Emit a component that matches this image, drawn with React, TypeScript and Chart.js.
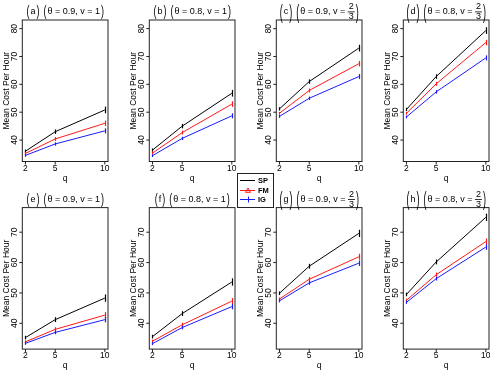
import React, { useEffect, useRef } from "react";
import { Chart, registerables } from "chart.js";

Chart.register(...registerables);

// ---------------- data ----------------
const Q_VALUES = [2, 5, 10];
const X_TICKS = [2, 5, 10];
const TOP_Y_TICKS = [40, 50, 60, 70, 80];
const BOTTOM_Y_TICKS = [40, 50, 60, 70];
const PANEL_LABELS = ["a", "b", "c", "d", "e", "f", "g", "h"];
const PANEL_THETA = ["0.9", "0.8", "0.9", "0.8", "0.9", "0.8", "0.9", "0.8"];
const PANEL_V = ["1", "1", "2/3", "2/3", "1", "1", "2/3", "2/3"];
const SERIES_NAMES = ["SP", "FM", "IG"];

const SP_VALUES = [
  [36.0, 43.0, 50.8],
  [36.4, 45.0, 56.8],
  [51.2, 61.0, 73.0],
  [51.0, 62.8, 79.3],
  [35.3, 41.2, 48.3],
  [35.6, 43.2, 53.6],
  [49.9, 58.8, 69.6],
  [49.5, 60.2, 74.9],
];
const FM_VALUES = [
  [35.2, 40.4, 46.0],
  [35.3, 42.7, 52.9],
  [49.6, 57.8, 67.4],
  [49.6, 60.2, 75.0],
  [33.9, 38.0, 42.7],
  [34.1, 39.5, 47.3],
  [48.0, 54.5, 61.9],
  [47.6, 56.0, 66.9],
];
const IG_VALUES = [
  [34.5, 38.6, 43.3],
  [34.4, 40.6, 48.7],
  [48.5, 55.0, 62.8],
  [48.3, 57.3, 69.5],
  [33.4, 37.0, 41.2],
  [33.3, 38.6, 45.5],
  [47.4, 53.3, 59.8],
  [46.9, 54.7, 65.1],
];
const SP_ERR = [0.6, 0.8, 1.2];
const FM_ERR = [0.5, 0.7, 1.0];
const IG_ERR = [0.5, 0.6, 0.9];

// ---------------- layout / style ----------------
const W = 490;
const H = 370;
const FONT = '"Liberation Sans", Arial, Helvetica, sans-serif';
const COLORS = ["#000000", "#ff1a1a", "#1a1aff"];
const COL_LEFT = [22.3, 149.3, 276.3, 403.3];
const BOX_W = 85.7;
const ROW_TOP = [20, 207.6];
const BOX_H = 141.5;
const Y_RANGES = [
  [32.3, 83.1],
  [31.5, 78.1],
];
const X_RANGE = [1.68, 10.32];

function drawParen(ctx: CanvasRenderingContext2D, ch: string, x: number, cy: number, scale: number) {
  ctx.save();
  ctx.translate(x, cy);
  ctx.scale(1, scale);
  ctx.textAlign = "left";
  ctx.textBaseline = "middle";
  ctx.fillText(ch, 0, 0.6);
  ctx.restore();
}

function drawTitle(ctx: CanvasRenderingContext2D, cx: number, cy: number, label: string, theta: string, v: string) {
  ctx.save();
  ctx.fillStyle = "#000";
  ctx.font = `9px ${FONT}`;
  ctx.textBaseline = "middle";
  ctx.textAlign = "left";
  const isFrac = v.includes("/");
  const pScale = isFrac ? 2.3 : 1.6;
  const pw = ctx.measureText("(").width;
  const labW = ctx.measureText(label).width;
  const main = isFrac ? `θ = ${theta}, v = ` : `θ = ${theta}, v = ${v}`;
  const mainW = ctx.measureText(main).width;
  let fracW = 0;
  let num = "";
  let den = "";
  if (isFrac) {
    [num, den] = v.split("/");
    fracW = Math.max(ctx.measureText(num).width, ctx.measureText(den).width) + 2;
  }
  const gap = 1;
  const total = pw + gap + labW + gap + pw + 4 + pw + gap + mainW + fracW + gap + pw;
  let x = cx - total / 2;
  drawParen(ctx, "(", x, cy, pScale);
  x += pw + gap;
  ctx.fillText(label, x, cy);
  x += labW + gap;
  drawParen(ctx, ")", x, cy, pScale);
  x += pw + 4;
  drawParen(ctx, "(", x, cy, pScale);
  x += pw + gap;
  ctx.fillText(main, x, cy);
  x += mainW;
  if (isFrac) {
    ctx.textAlign = "center";
    const fx = x + fracW / 2;
    ctx.fillText(num, fx, cy - 5);
    ctx.fillText(den, fx, cy + 5.5);
    ctx.fillRect(x, cy, fracW, 0.8);
    ctx.textAlign = "left";
    x += fracW;
  }
  x += gap;
  drawParen(ctx, ")", x, cy, pScale);
  ctx.restore();
}

function makePanelPlugin(p: number, row: number) {
  return {
    id: "panelDecor" + p,
    afterDatasetsDraw(chart: any) {
      const ctx: CanvasRenderingContext2D = chart.ctx;
      const a = chart.chartArea;
      const xs = chart.scales.x;
      const ys = chart.scales.y;
      const errs = [SP_ERR, FM_ERR, IG_ERR];
      ctx.save();
      // error bars
      chart.data.datasets.forEach((ds: any, di: number) => {
        ctx.strokeStyle = ds.borderColor;
        ctx.lineWidth = 1.2;
        ds.data.forEach((pt: any, k: number) => {
          const px = Math.round(xs.getPixelForValue(pt.x)) + 0.5;
          const y1 = ys.getPixelForValue(pt.y - errs[di][k]);
          const y2 = ys.getPixelForValue(pt.y + errs[di][k]);
          ctx.beginPath();
          ctx.moveTo(px, y1);
          ctx.lineTo(px, y2);
          ctx.stroke();
        });
      });
      // box
      ctx.strokeStyle = "#222";
      ctx.lineWidth = 1;
      ctx.strokeRect(a.left, a.top, a.right - a.left, a.bottom - a.top);
      // x ticks
      ctx.fillStyle = "#000";
      ctx.font = `8.5px ${FONT}`;
      ctx.textAlign = "center";
      ctx.textBaseline = "middle";
      X_TICKS.forEach((t) => {
        const px = xs.getPixelForValue(t);
        ctx.beginPath();
        ctx.moveTo(px, a.bottom);
        ctx.lineTo(px, a.bottom + 3);
        ctx.stroke();
        ctx.fillText(String(t), px, a.bottom + 7);
      });
      ctx.fillText("q", (a.left + a.right) / 2, a.bottom + 17);
      // y ticks
      const yt = row === 0 ? TOP_Y_TICKS : BOTTOM_Y_TICKS;
      yt.forEach((t) => {
        const py = ys.getPixelForValue(t);
        ctx.beginPath();
        ctx.moveTo(a.left - 3, py);
        ctx.lineTo(a.left, py);
        ctx.stroke();
        ctx.save();
        ctx.translate(a.left - 8, py);
        ctx.rotate(-Math.PI / 2);
        ctx.fillText(String(t), 0, 0);
        ctx.restore();
      });
      ctx.save();
      ctx.translate(a.left - 16, (a.top + a.bottom) / 2);
      ctx.rotate(-Math.PI / 2);
      ctx.fillText("Mean Cost Per Hour", 0, 0);
      ctx.restore();
      // title
      drawTitle(ctx, (a.left + a.right) / 2, a.top - 8.5, `${PANEL_LABELS[p]}`, PANEL_THETA[p], PANEL_V[p]);
      ctx.restore();
    },
  };
}

const legendPlugin = {
  id: "customLegend",
  afterDraw(chart: any) {
    const ctx: CanvasRenderingContext2D = chart.ctx;
    ctx.save();
    const lx = 237.5;
    const ly = 173.5;
    const lw = 36;
    const lh = 34;
    ctx.fillStyle = "#fff";
    ctx.fillRect(lx, ly, lw, lh);
    ctx.strokeStyle = "#222";
    ctx.lineWidth = 1;
    ctx.strokeRect(lx, ly, lw, lh);
    const rows = [180.5, 190.5, 199.5];
    SERIES_NAMES.forEach((name, i) => {
      const y = rows[i];
      ctx.strokeStyle = COLORS[i];
      ctx.beginPath();
      ctx.moveTo(240, y);
      ctx.lineTo(255, y);
      ctx.stroke();
      const mx = 248;
      if (i === 1) {
        ctx.beginPath();
        ctx.moveTo(mx, y - 2.5);
        ctx.lineTo(mx + 2.5, y + 1.8);
        ctx.lineTo(mx - 2.5, y + 1.8);
        ctx.closePath();
        ctx.stroke();
      } else if (i === 2) {
        ctx.beginPath();
        ctx.moveTo(mx + 0.5, y - 3);
        ctx.lineTo(mx + 0.5, y + 3);
        ctx.stroke();
      }
      ctx.fillStyle = "#000";
      ctx.font = `bold 7.5px ${FONT}`;
      ctx.textAlign = "left";
      ctx.textBaseline = "middle";
      ctx.fillText(name, 258, y);
    });
    ctx.restore();
  },
};

function Panel({ p }: { p: number }) {
  const ref = useRef<HTMLCanvasElement | null>(null);
  useEffect(() => {
    const canvas = ref.current;
    if (!canvas) return;
    const row = p < 4 ? 0 : 1;
    const col = p % 4;
    const left = COL_LEFT[col];
    const top = ROW_TOP[row];
    const series = [SP_VALUES[p], FM_VALUES[p], IG_VALUES[p]];
    const plugins: any[] = [makePanelPlugin(p, row)];
    if (p === 2) plugins.push(legendPlugin);
    const chart = new Chart(canvas, {
      type: "line",
      data: {
        datasets: series.map((vals, i) => ({
          label: SERIES_NAMES[i],
          data: Q_VALUES.map((q, k) => ({ x: q, y: vals[k] })),
          borderColor: COLORS[i],
          backgroundColor: COLORS[i],
          borderWidth: 1,
          pointRadius: 0,
          tension: 0,
          fill: false,
        })),
      },
      options: {
        responsive: false,
        animation: false,
        events: [],
        layout: {
          padding: {
            left,
            top,
            right: W - left - BOX_W,
            bottom: H - top - BOX_H,
          },
        },
        plugins: {
          legend: { display: false },
          tooltip: { enabled: false },
          title: { display: false },
        },
        scales: {
          x: { type: "linear", display: false, min: X_RANGE[0], max: X_RANGE[1] },
          y: { type: "linear", display: false, min: Y_RANGES[row][0], max: Y_RANGES[row][1] },
        },
      },
      plugins,
    });
    return () => chart.destroy();
  }, [p]);
  return (
    <canvas
      ref={ref}
      width={W}
      height={H}
      style={{ position: "absolute", left: 0, top: 0, width: W, height: H }}
    />
  );
}

export default function App() {
  return (
    <div style={{ position: "fixed", left: 0, top: 0, width: W, height: H, background: "#fff" }}>
      {PANEL_LABELS.map((_, p) => (
        <Panel key={p} p={p} />
      ))}
    </div>
  );
}
